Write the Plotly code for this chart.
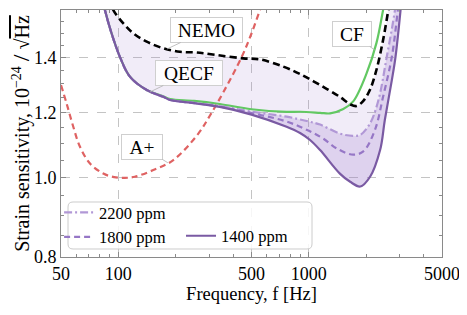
import numpy as np
import plotly.graph_objects as go

# ---------------- data ----------------
f_aplus = [50, 53.5, 58, 62.9, 71, 83.4, 95, 108, 122, 152.5, 194.3, 263, 302.7, 355.6, 444.5, 500.5, 554, 600]
s_aplus = [1.296, 1.231, 1.153, 1.090, 1.040, 1.011, 1.001, 0.999, 1.002, 1.021, 1.050, 1.131, 1.19, 1.27, 1.403, 1.499, 1.6, 1.68]

f_nemo = [90, 94, 106.2, 119.8, 140.9, 172, 210.7, 258, 328, 452, 554, 734, 899, 1146, 1455, 1648, 1780, 1932, 2096, 2263, 2453, 2614, 2700]
s_nemo = [1.65, 1.6, 1.541, 1.499, 1.464, 1.437, 1.423, 1.420, 1.410, 1.397, 1.393, 1.365, 1.337, 1.296, 1.254, 1.228, 1.222, 1.24, 1.28, 1.352, 1.471, 1.6, 1.67]

f_cf = [80, 85, 92, 102, 115, 141, 172, 187, 250, 341, 500, 764, 899, 1146, 1292, 1516, 1710, 2009, 2263, 2453, 2550]
s_cf = [1.70, 1.60, 1.50, 1.402, 1.327, 1.278, 1.256, 1.246, 1.240, 1.229, 1.211, 1.202, 1.2025, 1.199, 1.197, 1.212, 1.238, 1.339, 1.458, 1.6, 1.68]

f_2200 = [80, 85, 92, 102, 115, 141, 172, 187, 250, 341, 500, 764, 1000, 1146, 1455, 1700, 1862, 2096, 2320, 2565, 2832, 2900]
s_2200 = [1.70, 1.60, 1.50, 1.402, 1.327, 1.278, 1.254, 1.243, 1.233, 1.222, 1.203, 1.186, 1.170, 1.160, 1.131, 1.124, 1.127, 1.164, 1.243, 1.403, 1.6, 1.68]

f_1800 = [80, 85, 92, 102, 115, 141, 172, 187, 250, 341, 500, 764, 1000, 1192, 1400, 1710, 1932, 2220, 2453, 2727, 2932, 3000]
s_1800 = [1.70, 1.60, 1.50, 1.402, 1.327, 1.278, 1.254, 1.243, 1.232, 1.220, 1.198, 1.170, 1.140, 1.115, 1.085, 1.066, 1.076, 1.142, 1.254, 1.403, 1.6, 1.68]

f_1400 = [80, 85, 92, 102, 115, 141, 172, 187, 250, 341, 500, 764, 899, 1015, 1146, 1455, 1648, 1862, 2096, 2366, 2505, 2727, 2851, 3030, 3100]
s_1400 = [1.70, 1.60, 1.50, 1.402, 1.327, 1.278, 1.254, 1.243, 1.232, 1.219, 1.193, 1.153, 1.133, 1.111, 1.080, 1.011, 0.988, 0.975, 1.002, 1.080, 1.175, 1.314, 1.403, 1.6, 1.7]

x_ticks = [50, 100, 500, 1000, 5000]
x_ticktext = ["50", "100", "500", "1000", "5000"]
x_minor = [60, 70, 80, 90, 200, 300, 400, 600, 700, 800, 900, 2000, 3000, 4000]
y_ticks = [0.8, 1.0, 1.2, 1.4, 1.6]
y_ticktext = ["0.8", "1.0", "1.2", "1.4", "1.6"]
y_minor = [0.85, 0.9, 0.95, 1.05, 1.1, 1.15, 1.25, 1.3, 1.35, 1.45, 1.5, 1.55]

# ---------------- styles ----------------
FONT = "Liberation Serif"
C_1400 = "#7a5aa3"
C_1800 = "#9677c6"
C_2200 = "#b198d6"
C_RED = "#df6262"
C_GREEN = "#62c862"
AXC = "#8a8a8a"

fig = go.Figure()

# fills (invisible boundaries)
fig.add_trace(go.Scatter(x=f_nemo, y=s_nemo, mode="lines", line=dict(width=0, shape="spline"),
                         showlegend=False, hoverinfo="skip"))
fig.add_trace(go.Scatter(x=f_1400, y=s_1400, mode="lines", line=dict(width=0, shape="spline"),
                         fill="tonexty", fillcolor="rgba(160,130,210,0.15)",
                         showlegend=False, hoverinfo="skip"))
fig.add_trace(go.Scatter(x=f_2200, y=s_2200, mode="lines", line=dict(width=0, shape="spline"),
                         showlegend=False, hoverinfo="skip"))
fig.add_trace(go.Scatter(x=f_1400, y=s_1400, mode="lines", line=dict(width=0, shape="spline"),
                         fill="tonexty", fillcolor="rgba(150,110,200,0.20)",
                         showlegend=False, hoverinfo="skip"))

# visible lines
fig.add_trace(go.Scatter(x=f_aplus, y=s_aplus, mode="lines", name="A+",
                         line=dict(color=C_RED, width=2.2, dash="6px,4px", shape="spline"),
                         showlegend=False))
fig.add_trace(go.Scatter(x=f_cf, y=s_cf, mode="lines", name="CF",
                         line=dict(color=C_GREEN, width=2.2, shape="spline"),
                         showlegend=False))
fig.add_trace(go.Scatter(x=f_2200, y=s_2200, mode="lines", name="2200 ppm",
                         line=dict(color=C_2200, width=2.2, dash="8px,3px,2px,3px", shape="spline"),
                         legend="legend"))
fig.add_trace(go.Scatter(x=f_1800, y=s_1800, mode="lines", name="1800 ppm",
                         line=dict(color=C_1800, width=2.2, dash="6px,4px", shape="spline"),
                         legend="legend"))
fig.add_trace(go.Scatter(x=f_1400, y=s_1400, mode="lines", name="1400 ppm",
                         line=dict(color=C_1400, width=2.2, shape="spline"),
                         legend="legend2"))
fig.add_trace(go.Scatter(x=f_nemo, y=s_nemo, mode="lines", name="NEMO",
                         line=dict(color="black", width=2.6, dash="7px,4px", shape="spline"),
                         showlegend=False))

axis_common = dict(
    type="log", showline=True, linecolor=AXC, linewidth=1, mirror="ticks",
    ticks="inside", ticklen=5, tickcolor=AXC, tickwidth=1,
    showgrid=True, gridcolor="#c4c4c4", griddash="dash", gridwidth=1,
    zeroline=False, tickfont=dict(family=FONT, size=18, color="black"),
    automargin=False,
)

fig.update_xaxes(
    **axis_common,
    range=[np.log10(50), np.log10(5000)],
    tickmode="array", tickvals=x_ticks, ticktext=x_ticktext,
    minor=dict(tickmode="array", tickvals=x_minor, ticks="inside", ticklen=3,
               tickcolor=AXC, showgrid=False),
    title=dict(text="Frequency, f [Hz]", font=dict(family=FONT, size=18.5, color="black"), standoff=0),
)
fig.update_yaxes(
    **axis_common,
    range=[np.log10(0.8), np.log10(1.6)],
    tickmode="array", tickvals=y_ticks, ticktext=y_ticktext,
    minor=dict(tickmode="array", tickvals=y_minor, ticks="inside", ticklen=3,
               tickcolor=AXC, showgrid=False),
    title=dict(text="Strain sensitivity, 10<sup>−24</sup> <span style='font-size:24px'>/</span> "
                    "√<span style='text-decoration:overline'>Hz</span>",
               font=dict(family=FONT, size=20, color="black"), standoff=2),
)

# labels with pointer lines
def label(text, fx, sy, ax, ay, w, h=20):
    fig.add_annotation(
        x=np.log10(fx), y=np.log10(sy), xref="x", yref="y",
        text=text, showarrow=True, arrowhead=0, arrowwidth=0.8, arrowcolor="#b0b0b0",
        ax=ax, ay=ay, width=w, height=h,
        font=dict(family=FONT, size=19.5, color="black"),
        bgcolor="rgba(255,255,255,0.85)", bordercolor="#cfcfcf", borderwidth=1, borderpad=2,
    )

label("NEMO", 180, 1.434, 40, -19, 67)
label("QECF", 146.5, 1.271, 39, -19, 62)
label("A+", 182, 1.042, -25.5, -16, 36)
label("CF", 2220, 1.430, -23, -16, 34)

# legend frame (rounded)
def rounded_rect(x0, y0, x1, y1, rx, ry):
    return (f"M{x0+rx},{y0} L{x1-rx},{y0} Q{x1},{y0} {x1},{y0+ry} L{x1},{y1-ry} "
            f"Q{x1},{y1} {x1-rx},{y1} L{x0+rx},{y1} Q{x0},{y1} {x0},{y1-ry} "
            f"L{x0},{y0+ry} Q{x0},{y0} {x0+rx},{y0} Z")

fig.add_shape(type="path", xref="paper", yref="paper",
              path=rounded_rect(0.0184, 0.0324, 0.6588, 0.2227, 0.0131, 0.0202),
              line=dict(color="#cccccc", width=1), fillcolor="rgba(255,255,255,0.85)",
              layer="above")

leg_common = dict(bgcolor="rgba(0,0,0,0)", borderwidth=0, traceorder="normal",
                  font=dict(family=FONT, size=16.5, color="black"))
# the page body adds an 8px offset; the figure is sized so the plot area lands where the reference has it
fig.update_layout(
    width=459, height=307,
    margin=dict(l=53, r=25, t=2, b=58),
    plot_bgcolor="white", paper_bgcolor="white",
    font=dict(family=FONT, size=18, color="black"),
    legend=dict(x=-0.005, y=0.131, xanchor="left", yanchor="middle", **leg_common),
    legend2=dict(x=0.315, y=0.085, xanchor="left", yanchor="middle", **leg_common),
)

fig.write_html("out.html")
